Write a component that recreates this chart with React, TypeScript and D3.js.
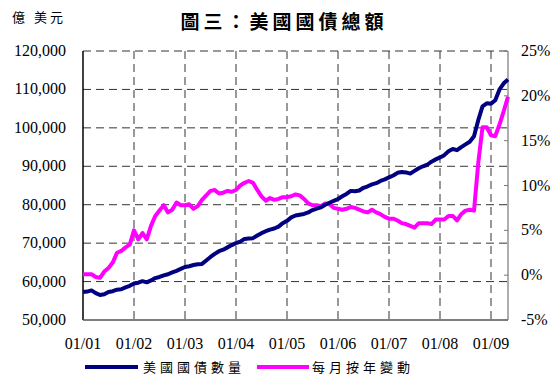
import * as d3 from "d3";

const W = 556;
const H = 376;

// monthly, 01/2001 .. 05/2009
const debt = [
  57300, 57400, 57700, 57000, 56500, 56700, 57300, 57500, 57900, 58000, 58500, 58900,
  59500, 59700, 60100, 59800, 60300, 60900, 61200, 61600, 61900, 62400, 62800, 63300,
  63800, 64000, 64300, 64500, 64600, 65500, 66400, 67200, 67900, 68300, 68900, 69500,
  70000, 70400, 71100, 71200, 71300, 72000, 72600, 73100, 73500, 73800, 74300, 75200,
  75800, 76700, 77200, 77400, 77600, 78000, 78600, 79000, 79300, 80000, 80500, 81000,
  81500, 82200, 82800, 83600, 83500, 83700, 84400, 84800, 85300, 85600, 86200, 86600,
  87100, 87600, 88300, 88500, 88400, 88100, 88800, 89500, 90000, 90400, 91200, 91800,
  92300, 92900, 93900, 94500, 94200, 95000, 95700, 96400, 97800, 102000, 105600, 106400,
  106300, 107200, 110000, 111600, 112600,
];

const yoy = [
  0.1, 0.1, 0.1, -0.2, -0.3, 0.4, 0.8, 1.4, 2.5, 2.7, 3.1, 3.4,
  5.0, 4.0, 4.7, 4.0, 5.5, 6.6, 7.2, 7.8, 7.0, 7.3, 8.1, 7.8,
  7.8, 7.9, 7.4, 7.7, 8.4, 8.9, 9.4, 9.5, 9.1, 9.2, 9.4, 9.3,
  9.5, 10.0, 10.3, 10.5, 10.3, 9.5, 8.8, 8.3, 8.6, 8.4, 8.5, 8.7,
  8.7, 8.8, 9.0, 8.9, 8.5, 8.0, 7.8, 7.8, 7.7, 8.0, 7.9, 7.5,
  7.4, 7.3, 7.4, 7.6, 7.5, 7.3, 7.1, 7.0, 7.3, 7.0, 6.8, 6.5,
  6.3, 6.3, 6.1, 5.8, 5.7, 5.5, 5.3, 5.8, 5.8, 5.8, 5.7, 6.2,
  6.2, 6.2, 6.6, 6.6, 6.1, 6.8, 7.2, 7.3, 7.2, 12.5, 16.5, 16.5,
  15.6, 15.5, 16.8, 18.3, 19.9,
];

const yearLabels = ["01/01", "01/02", "01/03", "01/04", "01/05", "01/06", "01/07", "01/08", "01/09"];
const leftTicks = [50000, 60000, 70000, 80000, 90000, 100000, 110000, 120000];
const rightTicks = [-5, 0, 5, 10, 15, 20, 25];
const legendNames = ["美國國債數量", "每月按年變動"];

const plot = { left: 83, right: 508, top: 51, bottom: 320 };
const serif = "'Liberation Serif', 'Times New Roman', serif";
const cjk = "'Noto Sans CJK TC', sans-serif";

export default function App() {
  const x = d3.scaleLinear().domain([0, debt.length - 1]).range([plot.left, plot.right]);
  const yL = d3.scaleLinear().domain([50000, 120000]).range([plot.bottom, plot.top]);
  const yR = d3.scaleLinear().domain([-5, 25]).range([plot.bottom, plot.top]);

  const lineL = d3.line<number>().x((_, i) => x(i)).y((d) => yL(d));
  const lineR = d3.line<number>().x((_, i) => x(i)).y((d) => yR(d));
  const fmt = d3.format(",");

  return (
    <svg
      width={W}
      height={H}
      style={{ position: "absolute", left: 0, top: 0, background: "#fff" }}
    >
      <text x={12} y={22} fontFamily={cjk} fontSize={13} letterSpacing={3}>
        億 美元
      </text>
      <text
        x={284}
        y={29}
        textAnchor="middle"
        fontFamily={cjk}
        fontWeight={700}
        fontSize={19}
        letterSpacing={4}
      >
        圖三：美國國債總額
      </text>

      {/* grid */}
      {leftTicks.slice(1).map((t) => (
        <line
          key={"h" + t}
          x1={plot.left}
          x2={plot.right}
          y1={yL(t)}
          y2={yL(t)}
          stroke="#333"
          strokeDasharray="8,5"
        />
      ))}
      {yearLabels.slice(1).map((_, i) => (
        <line
          key={"v" + i}
          x1={x((i + 1) * 12)}
          x2={x((i + 1) * 12)}
          y1={plot.top}
          y2={plot.bottom}
          stroke="#333"
          strokeDasharray="8,5"
        />
      ))}

      {/* axes */}
      <line x1={plot.left} x2={plot.left} y1={plot.top} y2={plot.bottom} stroke="#000" strokeWidth={1.5} />
      <line x1={plot.left} x2={plot.right} y1={plot.bottom} y2={plot.bottom} stroke="#555" strokeWidth={1.5} />
      <line x1={plot.right} x2={plot.right} y1={plot.top} y2={plot.bottom} stroke="#777" strokeWidth={1.2} />
      {rightTicks.map((t) => (
        <line key={"rt" + t} x1={plot.right - 4} x2={plot.right} y1={yR(t)} y2={yR(t)} stroke="#777" />
      ))}

      {/* labels */}
      {leftTicks.map((t) => (
        <text key={"l" + t} x={66} y={yL(t) + 5} textAnchor="end" fontFamily={serif} fontSize={16}>
          {fmt(t)}
        </text>
      ))}
      {rightTicks.map((t) => (
        <text key={"r" + t} x={521} y={yR(t) + 5} fontFamily={serif} fontSize={16}>
          {t + "%"}
        </text>
      ))}
      {yearLabels.map((s, i) => (
        <text key={s} x={x(i * 12)} y={349} textAnchor="middle" fontFamily={serif} fontSize={16}>
          {s}
        </text>
      ))}

      {/* series */}
      <path d={lineR(yoy) || ""} fill="none" stroke="#FF00FF" strokeWidth={4} strokeLinejoin="round" />
      <path d={lineL(debt) || ""} fill="none" stroke="#000080" strokeWidth={4} strokeLinejoin="round" />

      {/* legend */}
      <line x1={85} x2={138} y1={367} y2={367} stroke="#000080" strokeWidth={4} />
      <text x={143} y={372} fontFamily={cjk} fontSize={13} letterSpacing={4}>
        {legendNames[0]}
      </text>
      <line x1={257} x2={309} y1={367} y2={367} stroke="#FF00FF" strokeWidth={4} />
      <text x={312} y={372} fontFamily={cjk} fontSize={13} letterSpacing={4}>
        {legendNames[1]}
      </text>
    </svg>
  );
}
